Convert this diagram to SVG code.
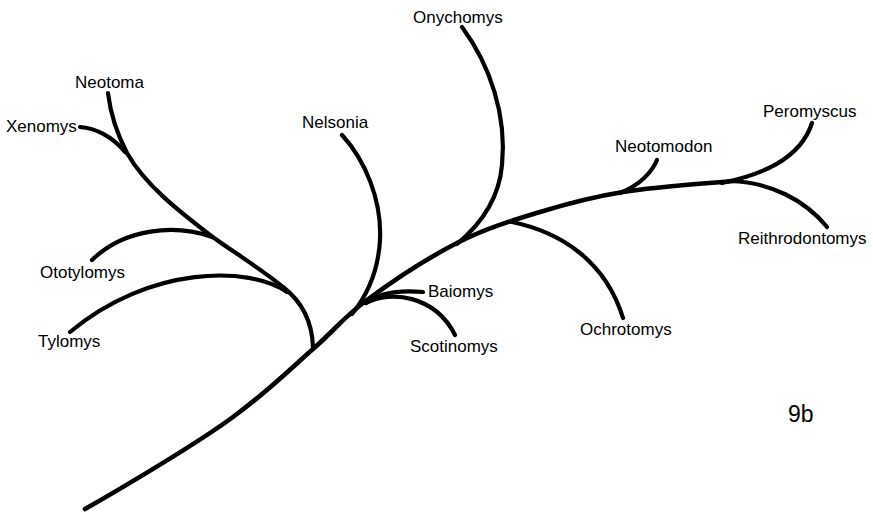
<svg xmlns="http://www.w3.org/2000/svg" width="873" height="512" viewBox="0 0 873 512">
<style>
.b{fill:none;stroke:#000;stroke-width:4.2;stroke-linecap:round;stroke-linejoin:round}
.t{fill:none;stroke:#000;stroke-width:4.6;stroke-linecap:round;stroke-linejoin:round}
text{font-family:"Liberation Sans",Arial,sans-serif;font-size:17px;fill:#000}
</style>
<rect width="873" height="512" fill="#fff"/>
<g id="connectors">
<path class="t" d="M85,509 C115,492 195,445 233,417 C271,389 290.7,368.5 313,349 C335.3,329.5 343,317.7 367,300 C391,282.3 428.2,257.7 457,243 C485.8,228.3 512.3,220.5 540,212 C567.7,203.5 590.8,197.2 623,192 C655.2,186.8 714.7,182.8 733,181"/>
<path class="b" d="M313,347 C312,320 300,300 283,287 C260,268 230,250 210,235 C180,212 145,185 127,153 C115,130 110,110 108,93"/>
<path class="b" d="M125,152 C112,136 95,128 80,127"/>
<path class="b" d="M212,237 C175,224 125,228 92,260"/>
<path class="b" d="M287,292 C250,266 150,265 70,332"/>
<path class="b" d="M342,135 C365,160 382,200 380,240 C378,275 365,298 352,314"/>
<path class="b" d="M462,27 C490,65 507,115 502,165 C499,200 480,225 457,244"/>
<path class="b" d="M366,303 C380,292 400,290 423,292"/>
<path class="b" d="M366,303 C390,290 435,295 455,335"/>
<path class="b" d="M620,193 C640,185 652,172 657,160"/>
<path class="b" d="M722,183 C760,175 800,160 812,123"/>
<path class="b" d="M730,181 C770,182 805,200 827,227"/>
<path class="b" d="M512,222 C560,232 605,260 623,318"/>
</g>
<g id="Neotoma"><text x="75" y="88">Neotoma</text></g>
<g id="Xenomys"><text x="6" y="132">Xenomys</text></g>
<g id="Ototylomys"><text x="40" y="278">Ototylomys</text></g>
<g id="Tylomys"><text x="38" y="347">Tylomys</text></g>
<g id="Nelsonia"><text x="302" y="128">Nelsonia</text></g>
<g id="Onychomys"><text x="413" y="23">Onychomys</text></g>
<g id="Baiomys"><text x="428" y="297">Baiomys</text></g>
<g id="Scotinomys"><text x="410" y="352">Scotinomys</text></g>
<g id="Neotomodon"><text x="615" y="152">Neotomodon</text></g>
<g id="Peromyscus"><text x="763" y="117">Peromyscus</text></g>
<g id="Reithrodontomys"><text x="738" y="244">Reithrodontomys</text></g>
<g id="Ochrotomys"><text x="580" y="335">Ochrotomys</text></g>
<g id="label-9b"><text x="788" y="422" style="font-size:23px;font-weight:300">9b</text></g>
</svg>
